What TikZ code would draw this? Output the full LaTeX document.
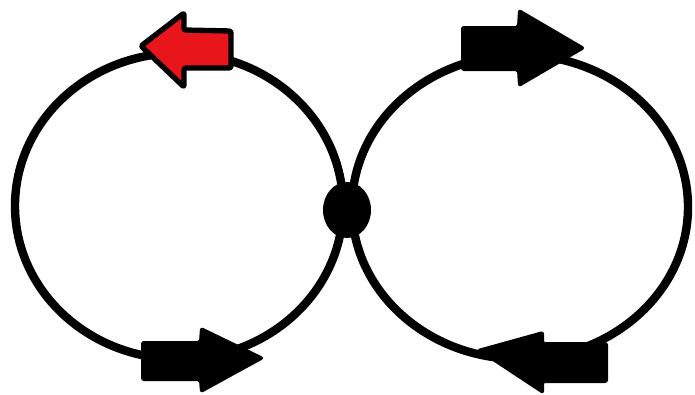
\documentclass[tikz,border=0pt]{standalone}
\definecolor{arrowred}{RGB}{232,22,26}
\begin{document}
\begin{tikzpicture}[x=0.75pt,y=-0.75pt,
  loop/.style={draw=black,line width=6.3pt},
  blackarrow/.style={fill=black,draw=black,line width=1.5pt,rounded corners=1.5pt},
  redarrow/.style={fill=arrowred,draw=black,line width=4pt,rounded corners=1.5pt,line join=round}]
\useasboundingbox (0,0) rectangle (695,394);
% circles
\draw[loop] (179,206) ellipse [x radius=164, y radius=153];
\draw[loop] (520,207) ellipse [x radius=168, y radius=152];
% junction dot
\fill (347,210) ellipse [x radius=24, y radius=28];
% top-left red arrow (pointing left)
\draw[redarrow] (141,46) -- (184,13) -- (184,30) -- (231,31) -- (231,68) -- (184,68) -- (184,87) -- cycle;
% top-right arrow (pointing right)
\draw[blackarrow] (462,27) -- (518,27) -- (519,10) -- (584,48) -- (519,86) -- (518,70) -- (462,70) -- cycle;
% bottom-left arrow (pointing right)
\draw[blackarrow] (142,342) -- (200,342) -- (201,328) -- (263,358) -- (201,392) -- (200,380) -- (142,380) -- cycle;
% bottom-right arrow (pointing left)
\draw[blackarrow] (478,350) -- (543,332) -- (543,343) -- (607,343) -- (607,382) -- (543,382) -- (543,393) -- cycle;
\end{tikzpicture}
\end{document}
